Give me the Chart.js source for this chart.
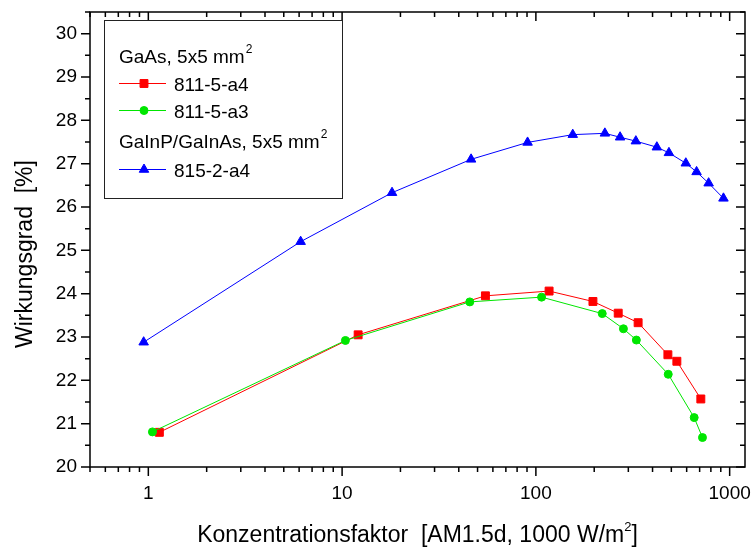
<!DOCTYPE html>
<html>
<head>
<meta charset="utf-8">
<script src="https://cdn.jsdelivr.net/npm/chart.js@4.4.1/dist/chart.umd.min.js"></script>
<style>
html, body { margin: 0; padding: 0; background: #fff; }
canvas { display: block; }
</style>
</head>
<body>
<canvas id="wirkungsgrad-chart" width="753" height="547"></canvas>
<script>
// values (concentration factor vs. efficiency)
let redX = [1.14, 12.1, 54.9, 117, 197, 266, 337, 480, 534, 710]
let redY = [20.80, 23.05, 23.95, 24.06, 23.82, 23.55, 23.33, 22.59, 22.44, 21.57]

let greenX = [1.05, 10.4, 45.6, 107, 220, 283, 330, 482, 656, 724]
let greenY = [20.81, 22.92, 23.81, 23.92, 23.54, 23.19, 22.93, 22.14, 21.14, 20.68]

let blueX = [0.946, 6.11, 18.1, 46.3, 90.6, 155, 227, 272, 328, 421, 486, 594, 675, 779, 929]
let blueY = [22.88, 25.20, 26.33, 27.10, 27.49, 27.67, 27.70, 27.61, 27.52, 27.38, 27.25, 27.01, 26.81, 26.55, 26.20]

let seriesNames = ['811-5-a4', '811-5-a3', '815-2-a4']
let groupNames = ['GaAs, 5x5 mm', 'GaInP/GaInAs, 5x5 mm']

let xLabels = [1, 10, 100, 1000]
let yLabels = [20, 21, 22, 23, 24, 25, 26, 27, 28, 29, 30]

let xTitle = 'Konzentrationsfaktor  [AM1.5d, 1000 W/m'
let yTitle = 'Wirkungsgrad  [%]'

let font = '"Liberation Sans", Arial, sans-serif'

// minor ticks on the log axis: 0.5 ... 1000
let xMinor = []
for (let d = 0.1; d <= 1000; d *= 10) {
    for (let k = 1; k <= 9; k++) xMinor.push(Math.round(d * k * 1000) / 1000)
}
let yMinor = []
for (let v = 20; v <= 30.5; v += 0.5) yMinor.push(v)

function toPoints(xs, ys) {
    return xs.map((x, i) => ({x: x, y: ys[i]}))
}

// no automatic label padding, the layout padding sets the plot box
function noPadding(scale) {
    scale.paddingLeft = 0
    scale.paddingRight = 0
    scale.paddingTop = 0
    scale.paddingBottom = 0
}

// frame with ticks on all four sides
let framePlugin = {
    id: 'frame',
    afterDraw(chart) {
        let ctx = chart.ctx
        let a = chart.chartArea
        let xs = chart.scales.x
        let ys = chart.scales.y
        ctx.save()
        ctx.strokeStyle = '#000'
        ctx.lineWidth = 1.5
        ctx.beginPath()
        xMinor.forEach(v => {
            let px = xs.getPixelForValue(v)
            if (px < a.left - 0.5 || px > a.right + 0.5) return
            let len = xLabels.includes(v) ? 9 : 5
            ctx.moveTo(px, a.bottom)
            ctx.lineTo(px, a.bottom + len)
            ctx.moveTo(px, a.top)
            ctx.lineTo(px, a.top + len)
        })
        yMinor.forEach(v => {
            let py = ys.getPixelForValue(v)
            if (py < a.top - 0.5) return
            let len = v % 1 === 0 ? 9 : 5
            ctx.moveTo(a.left, py)
            ctx.lineTo(a.left - len, py)
            ctx.moveTo(a.right, py)
            ctx.lineTo(a.right - len, py)
        })
        ctx.stroke()
        ctx.strokeRect(a.left, a.top, a.right - a.left, a.bottom - a.top)

        // axis titles
        ctx.fillStyle = '#000'
        ctx.font = '23px ' + font
        ctx.textBaseline = 'alphabetic'
        ctx.textAlign = 'left'
        let w1 = ctx.measureText(xTitle).width
        ctx.font = '13px ' + font
        let w2 = ctx.measureText('2').width
        ctx.font = '23px ' + font
        let w3 = ctx.measureText(']').width
        let x0 = (a.left + a.right) / 2 - (w1 + w2 + w3) / 2
        ctx.fillText(xTitle, x0, 542)
        ctx.fillText(']', x0 + w1 + w2, 542)
        ctx.font = '13px ' + font
        ctx.fillText('2', x0 + w1, 531)

        ctx.save()
        ctx.translate(32, 254)
        ctx.rotate(-Math.PI / 2)
        ctx.font = '23px ' + font
        ctx.textAlign = 'center'
        ctx.fillText(yTitle, 0, 0)
        ctx.restore()
        ctx.restore()
    }
}

// legend box with two group headings
let legendPlugin = {
    id: 'groupLegend',
    afterDraw(chart) {
        let ctx = chart.ctx
        ctx.save()
        ctx.strokeStyle = '#222'
        ctx.lineWidth = 1
        ctx.strokeRect(104.5, 20.5, 238, 178)
        ctx.fillStyle = '#000'
        ctx.textAlign = 'left'
        ctx.textBaseline = 'alphabetic'

        let heading = (text, y) => {
            ctx.font = '19px ' + font
            ctx.fillText(text, 119, y)
            let w = ctx.measureText(text).width
            ctx.font = '12px ' + font
            ctx.fillText('2', 119 + w + 1, y - 10)
        }
        heading(groupNames[0], 63)
        heading(groupNames[1], 148)

        let rows = [[0, 83.5], [1, 110.5], [2, 169.5]]
        rows.forEach(([i, y]) => {
            let ds = chart.data.datasets[i]
            ctx.strokeStyle = ds.borderColor
            ctx.fillStyle = ds.borderColor
            ctx.lineWidth = 1
            ctx.beginPath()
            ctx.moveTo(119, y)
            ctx.lineTo(166, y)
            ctx.stroke()
            Chart.helpers.drawPoint(ctx, {
                pointStyle: ds.pointStyle, radius: ds.pointRadius, rotation: 0, borderWidth: 1
            }, 144, y)
            ctx.fillStyle = '#000'
            ctx.font = '19px ' + font
            ctx.fillText(seriesNames[i], 174, y + 7)
        })
        ctx.restore()
    }
}

let ctx = document.querySelector('#wirkungsgrad-chart').getContext('2d')

let chart = new Chart(ctx, {
    type: 'line',
    data: {
        datasets: [
            {
                label: seriesNames[0],
                data: toPoints(redX, redY),
                borderColor: '#ff0000',
                backgroundColor: '#ff0000',
                pointStyle: 'rect',
                pointRadius: 5.6,
                order: 1
            },
            {
                label: seriesNames[1],
                data: toPoints(greenX, greenY),
                borderColor: '#00e600',
                backgroundColor: '#00e600',
                pointStyle: 'circle',
                pointRadius: 4,
                order: 0
            },
            {
                label: seriesNames[2],
                data: toPoints(blueX, blueY),
                borderColor: '#0000ff',
                backgroundColor: '#0000ff',
                pointStyle: 'triangle',
                pointRadius: 5.5,
                order: 2
            }
        ]
    },
    options: {
        responsive: false,
        animation: false,
        layout: { padding: { left: 0, right: 8, top: 12, bottom: 0 } },
        datasets: {
            line: { borderWidth: 1, pointBorderWidth: 1, tension: 0, fill: false }
        },
        plugins: {
            legend: { display: false },
            tooltip: { enabled: false }
        },
        scales: {
            x: {
                type: 'logarithmic',
                min: 0.5,
                max: 1200,
                grid: { display: false, drawTicks: false },
                border: { display: false },
                afterBuildTicks: scale => { scale.ticks = xLabels.map(v => ({value: v})) },
                afterFit: scale => { scale.height = 80; noPadding(scale) },
                ticks: {
                    autoSkip: false,
                    maxRotation: 0,
                    padding: 15,
                    color: '#000',
                    font: { family: font, size: 19 },
                    callback: v => String(v)
                }
            },
            y: {
                type: 'linear',
                min: 20,
                max: 30.5,
                grid: { display: false, drawTicks: false },
                border: { display: false },
                afterBuildTicks: scale => { scale.ticks = yLabels.map(v => ({value: v})) },
                afterFit: scale => { scale.width = 90; noPadding(scale) },
                ticks: {
                    autoSkip: false,
                    padding: 13,
                    color: '#000',
                    font: { family: font, size: 19 },
                    callback: v => String(v)
                }
            }
        }
    },
    plugins: [framePlugin, legendPlugin]
})
</script>
</body>
</html>
